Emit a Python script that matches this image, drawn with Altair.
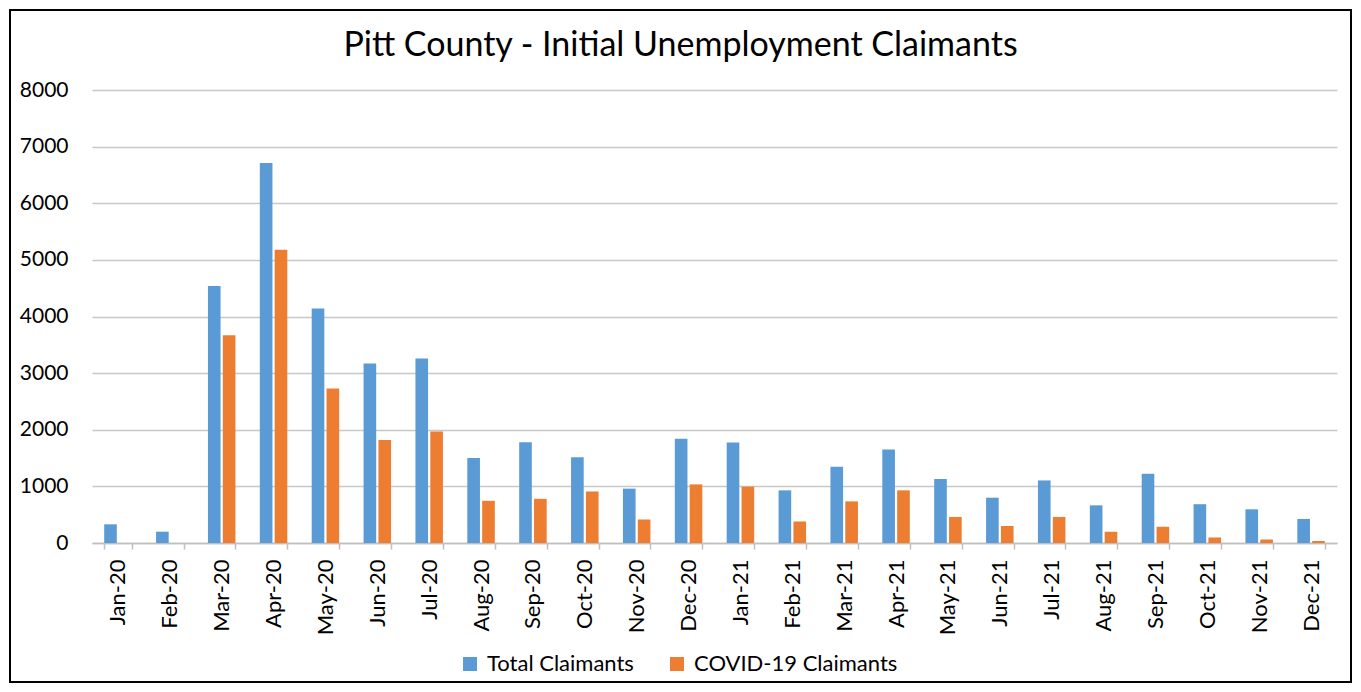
import altair as alt
import pandas as pd

months = ["Jan-20", "Feb-20", "Mar-20", "Apr-20", "May-20", "Jun-20", "Jul-20", "Aug-20",
          "Sep-20", "Oct-20", "Nov-20", "Dec-20", "Jan-21", "Feb-21", "Mar-21", "Apr-21",
          "May-21", "Jun-21", "Jul-21", "Aug-21", "Sep-21", "Oct-21", "Nov-21", "Dec-21"]
total = [330, 200, 4540, 6710, 4140, 3170, 3260, 1500, 1780, 1515, 960, 1840,
         1775, 930, 1345, 1650, 1130, 800, 1105, 665, 1225, 685, 595, 425]
covid = [0, 0, 3670, 5180, 2730, 1820, 1970, 745, 780, 910, 415, 1035,
         995, 380, 735, 930, 460, 300, 460, 200, 285, 95, 60, 35]
series = ["Total Claimants", "COVID-19 Claimants"]
colors = ["#5B9BD5", "#ED7D31"]
y_ticks = [0, 1000, 2000, 3000, 4000, 5000, 6000, 7000, 8000]

rows = []
for m, t, c in zip(months, total, covid):
    rows.append({"month": m, "series": series[0], "value": t})
    rows.append({"month": m, "series": series[1], "value": c})
df = pd.DataFrame(rows)

W, H = 1245, 453
FONT = "Lato"

bars = alt.Chart(df).mark_bar().encode(
    x=alt.X("month:N", sort=months, title=None,
            scale=alt.Scale(paddingInner=0.47, paddingOuter=0.235),
            axis=alt.Axis(labelAngle=-90, labelFontSize=22, labelFont=FONT, labelColor="#000000",
                          tickBand="extent", tickSize=6, tickColor="#bfbfbf", tickWidth=1.5,
                          domainColor="#bfbfbf", domainWidth=1.5, labelPadding=10, grid=False)),
    xOffset=alt.XOffset("series:N", sort=series, scale=alt.Scale(paddingInner=0.15)),
    y=alt.Y("value:Q", title=None,
            scale=alt.Scale(domain=[0, 8000], nice=False),
            axis=alt.Axis(values=y_ticks, format="d", labelFontSize=21, labelFont=FONT,
                          labelColor="#000000", domain=False, ticks=False, labelPadding=24,
                          gridColor="#c8c8c8", gridWidth=1.3)),
    color=alt.Color("series:N", sort=series,
                    scale=alt.Scale(domain=series, range=colors),
                    legend=alt.Legend(title=None, orient="none", direction="horizontal",
                                      legendX=367, legendY=563, symbolType="square",
                                      symbolSize=196, symbolStrokeWidth=0, labelFontSize=22,
                                      labelFont=FONT, labelColor="#000000", columnPadding=32,
                                      labelOffset=6, labelLimit=400)),
)

frame = alt.Chart(df).mark_rect(fill=None, stroke="#000000", strokeWidth=2).encode(
    x=alt.value(-82), x2=alt.value(W + 14), y=alt.value(-80), y2=alt.value(H + 139)
)

chart = alt.layer(bars, frame).properties(
    width=W, height=H,
    title=alt.TitleParams("Pitt County - Initial Unemployment Claimants", fontSize=34,
                          font=FONT, fontWeight="normal", color="#000000", offset=-54, dx=-34),
    autosize=alt.AutoSizeParams(type="none"),
    padding={"left": 84, "top": 82, "right": 16, "bottom": 145},
).configure_view(stroke=None)

chart.save("out.html", embed_options={"renderer": "svg", "actions": False})
